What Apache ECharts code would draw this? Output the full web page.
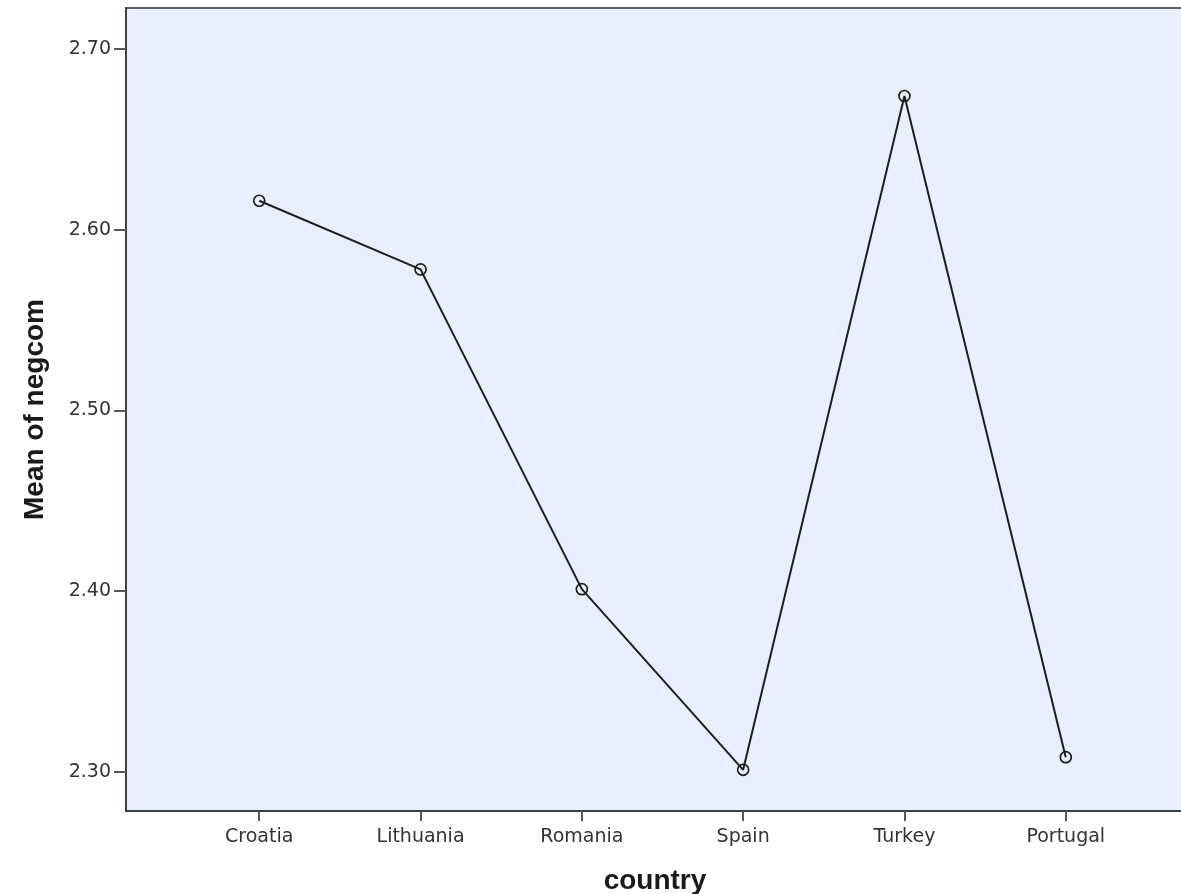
<!DOCTYPE html>
<html>
<head>
<meta charset="utf-8">
<script src="https://cdn.jsdelivr.net/npm/echarts@6/dist/echarts.min.js"></script>
<style>
  html, body { margin: 0; padding: 0; background: #ffffff; }
  #chart { width: 1181px; height: 894px; }
</style>
</head>
<body>
<div id="chart"></div>
<script>
// Mean of negcom by country
const countries = ['Croatia', 'Lithuania', 'Romania', 'Spain', 'Turkey', 'Portugal'];
const meanNegcom = [2.616, 2.578, 2.401, 2.301, 2.674, 2.308];
const yTicks = [2.30, 2.40, 2.50, 2.60, 2.70];

const chart = echarts.init(document.getElementById('chart'), null, { renderer: 'canvas' });

const points = countries.map((c, i) => [i, meanNegcom[i]]);
const xIdx = countries.map((c, i) => i);

chart.setOption({
  animation: false,
  backgroundColor: '#ffffff',
  grid: {
    left: 126, top: 8, right: -3, bottom: 83,
    outerBoundsMode: 'none',
    containLabel: false,
    show: true,
    backgroundColor: '#e9effd',
    borderColor: '#5f636b',
    borderWidth: 2
  },
  xAxis: {
    type: 'value',
    min: -0.826,
    max: 5.733,
    name: 'country',
    nameLocation: 'middle',
    nameGap: 56,
    nameTextStyle: { fontFamily: 'Liberation Sans', fontWeight: 'bold', fontSize: 28, color: '#1a1a1a' },
    splitLine: { show: false },
    axisLine: { show: true, onZero: false, lineStyle: { color: '#3c3f45', width: 2 } },
    axisTick: { show: true, length: 10, customValues: xIdx, lineStyle: { color: '#55585e', width: 2 } },
    axisLabel: {
      customValues: xIdx,
      margin: 17,
      fontFamily: 'DejaVu Sans', fontSize: 19, color: '#333333',
      formatter: v => countries[Math.round(v)] || ''
    }
  },
  yAxis: {
    type: 'value',
    min: 2.2782,
    max: 2.7227,
    name: 'Mean of negcom',
    nameLocation: 'middle',
    nameRotate: 90,
    nameGap: 77,
    nameTextStyle: { fontFamily: 'Liberation Sans', fontWeight: 'bold', fontSize: 28, color: '#1a1a1a' },
    splitLine: { show: false },
    axisLine: { show: true, onZero: false, lineStyle: { color: '#3c3f45', width: 2 } },
    axisTick: { show: true, length: 12, customValues: yTicks, lineStyle: { color: '#55585e', width: 2 } },
    axisLabel: {
      customValues: yTicks,
      margin: 15,
      fontFamily: 'DejaVu Sans', fontSize: 19, color: '#333333',
      formatter: v => v.toFixed(2)
    }
  },
  series: [{
    type: 'line',
    data: points,
    symbol: 'circle',
    symbolSize: 11,
    lineStyle: { color: '#1e1e1e', width: 2 },
    itemStyle: { color: 'rgba(0,0,0,0)', borderColor: '#1e1e1e', borderWidth: 1.7 },
    z: 3
  }]
});
</script>
</body>
</html>
